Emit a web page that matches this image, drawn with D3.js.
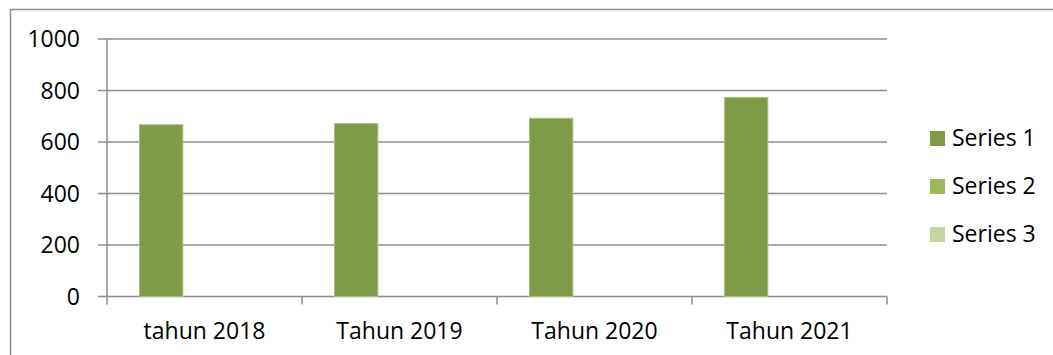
<!DOCTYPE html>
<html>
<head>
<meta charset="utf-8">
<script src="https://cdn.jsdelivr.net/npm/d3@7"></script>
<style>
  html, body { margin: 0; padding: 0; background: #fff; }
  svg { display: block; }
  text { font-family: "Open Sans", "Noto Sans", sans-serif; fill: #000; }
</style>
</head>
<body>
<svg id="chart" width="1053" height="355"></svg>
<script>
// Chart data
const categories = ["tahun 2018", "Tahun 2019", "Tahun 2020", "Tahun 2021"];
const seriesNames = ["Series 1", "Series 2", "Series 3"];
const series1 = [667, 671, 692, 773];
const series2 = [0, 0, 0, 0];
const series3 = [0, 0, 0, 0];
const yTicks = [0, 200, 400, 600, 800, 1000];

const seriesValues = [series1, series2, series3];
const colors = ["#7f9b48", "#9bbb59", "#c3d69b"];
const strokes = ["#a6bf7a", "#b5cd85", "#d5e3bc"];

const svg = d3.select("#chart");
const W = 1053, H = 355;
const fontSize = 23;

// Outer chart frame (right/bottom edges fall outside the view)
svg.append("rect")
  .attr("x", 10.5).attr("y", 9.5)
  .attr("width", W + 20).attr("height", H + 20)
  .attr("fill", "#fff").attr("stroke", "#8c8c8c").attr("stroke-width", 1.5);

const plot = { left: 107, right: 887, top: 39, bottom: 296.5 };

const x = d3.scaleBand().domain(categories).range([plot.left, plot.right]).padding(0);
const y = d3.scaleLinear().domain([0, 1000]).range([plot.bottom, plot.top]);

// Clustered layout: three series per category with a 150% gap
const barW = x.bandwidth() / (seriesNames.length + 1.5);
const gapHalf = barW * 0.75;
const xs = d3.scaleBand().domain(seriesNames)
  .range([gapHalf, x.bandwidth() - gapHalf]).padding(0);

const gridColor = "#8c8c8c";

// Horizontal gridlines with left tick marks
svg.append("g").selectAll("line").data(yTicks).join("line")
  .attr("x1", plot.left - 9).attr("x2", plot.right)
  .attr("y1", d => y(d)).attr("y2", d => y(d))
  .attr("stroke", gridColor).attr("stroke-width", 1.5);

// Value axis line
svg.append("line")
  .attr("x1", plot.left).attr("x2", plot.left)
  .attr("y1", y(1000)).attr("y2", y(0))
  .attr("stroke", gridColor).attr("stroke-width", 1.5);

// Category tick marks
const catEdges = categories.map(c => x(c)).concat([plot.right]);
svg.append("g").selectAll("line").data(catEdges).join("line")
  .attr("x1", d => d).attr("x2", d => d)
  .attr("y1", y(0)).attr("y2", y(0) + 8)
  .attr("stroke", gridColor).attr("stroke-width", 1.5);

// Y labels
svg.append("g").selectAll("text").data(yTicks).join("text")
  .attr("x", 80).attr("y", d => y(d))
  .attr("dy", "0.36em")
  .attr("text-anchor", "end")
  .attr("font-size", fontSize)
  .text(d => d);

// X labels
svg.append("g").selectAll("text").data(categories).join("text")
  .attr("x", d => x(d) + x.bandwidth() / 2)
  .attr("y", 339)
  .attr("text-anchor", "middle")
  .attr("font-size", fontSize)
  .text(d => d);

// Bars
seriesNames.forEach((name, si) => {
  svg.append("g").selectAll("rect").data(seriesValues[si]).join("rect")
    .filter(d => d > 0)
    .attr("x", (d, i) => x(categories[i]) + xs(name))
    .attr("y", d => y(d))
    .attr("width", xs.bandwidth())
    .attr("height", d => y(0) - y(d))
    .attr("fill", colors[si])
    .attr("stroke", strokes[si])
    .attr("stroke-width", 1);
});

// Legend
const legend = svg.append("g").selectAll("g").data(seriesNames).join("g")
  .attr("transform", (d, i) => `translate(930, ${131 + i * 48})`);
legend.append("rect")
  .attr("width", 15).attr("height", 15)
  .attr("fill", (d, i) => colors[i]);
legend.append("text")
  .attr("x", 22).attr("y", 15)
  .attr("font-size", fontSize)
  .text(d => d);
</script>
</body>
</html>
